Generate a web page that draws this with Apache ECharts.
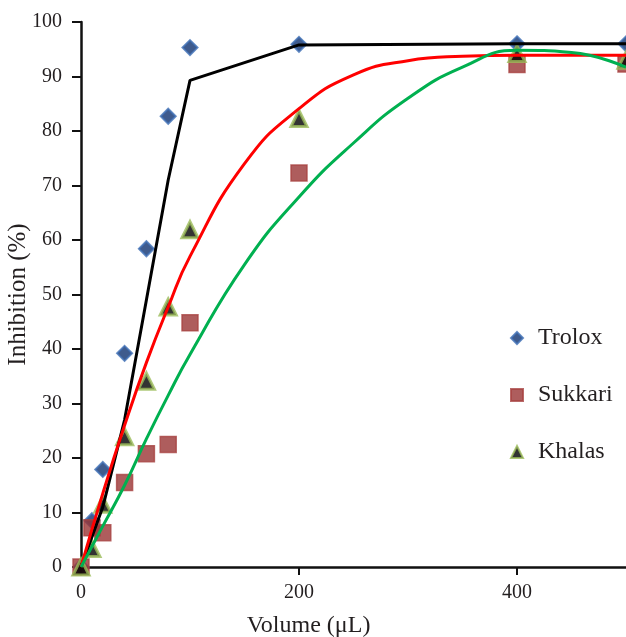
<!DOCTYPE html>
<html>
<head>
<meta charset="utf-8">
<script src="https://cdn.jsdelivr.net/npm/echarts@6/dist/echarts.min.js"></script>
<style>
  html, body { margin: 0; padding: 0; background: #fff; }
  #chart { width: 626px; height: 637px; }
</style>
</head>
<body>
<div id="chart"></div>
<script>
// measured points
const volumes = [0, 10, 20, 40, 60, 80, 100, 200, 400, 500];
const trolox  = [0, 8.5, 17.9, 39.2, 58.4, 82.7, 95.3, 95.9, 96.0, 96.0];
const sukkari = [0, 7.2, 6.3, 15.5, 20.8, 22.5, 44.8, 72.3, 92.2, 92.3];
const khalas  = [0, 3.4, 11.5, 23.9, 34.1, 47.7, 61.9, 82.3, 94.2, 93.0];

// trend lines
const troloxFitX = [0, 20, 40, 60, 80, 100, 200, 400, 500];
const troloxFit  = [0, 11, 27, 49, 71, 89.3, 95.8, 96, 96];
const fitX = [0, 20, 40, 60, 80, 100, 150, 200, 250, 300, 350, 400, 450, 500];
const sukkariFit = [0, 13.5, 26, 37.5, 47.7, 57, 74, 84.1, 90.3, 92.9, 93.7, 93.9, 93.9, 93.9];
const khalasFit  = [0, 7.5, 15, 23.5, 31.5, 39, 55.5, 67.9, 77.8, 86.0, 91.7, 94.8, 94.4, 91.7];

const xTicks = [0, 200, 400];

const zip = (xs, ys) => xs.map((x, i) => [x, ys[i]]);
const serif = '"Liberation Serif", "DejaVu Serif", serif';

const chart = echarts.init(document.getElementById('chart'));

chart.setOption({
    animation: false,
    backgroundColor: '#fff',
    grid: { left: 81, right: 0, top: 22, bottom: 70, containLabel: false, outerBoundsMode: 'none' },
    legend: {
        data: ['Trolox', 'Sukkari', 'Khalas'],
        orient: 'vertical',
        left: 510,
        top: 326,
        padding: 0,
        itemWidth: 12,
        itemHeight: 12,
        itemGap: 33,
        textStyle: { fontFamily: serif, fontSize: 24, color: '#231f20', padding: [0, 0, 0, 10] }
    },
    xAxis: {
        type: 'value',
        min: 0,
        max: 500,
        name: 'Volume (μL)',
        nameLocation: 'middle',
        nameGap: 47,
        nameMoveOverlap: false,
        nameTextStyle: { fontFamily: serif, fontSize: 24, color: '#231f20', padding: [0, 90, 0, 0] },
        axisLine: { lineStyle: { color: '#111', width: 2.5 } },
        axisTick: { show: true, length: 8, customValues: xTicks, lineStyle: { color: '#111', width: 2 } },
        axisLabel: { customValues: xTicks, margin: 16, fontFamily: serif, fontSize: 20, color: '#231f20' },
        splitLine: { show: false }
    },
    yAxis: {
        type: 'value',
        min: 0,
        max: 100,
        interval: 10,
        name: 'Inhibition (%)',
        nameLocation: 'middle',
        nameGap: 50,
        nameMoveOverlap: false,
        nameTextStyle: { fontFamily: serif, fontSize: 25, color: '#231f20' },
        axisLine: { show: true, lineStyle: { color: '#111', width: 2.5 } },
        axisTick: { show: true, length: 9, lineStyle: { color: '#111', width: 2 } },
        axisLabel: { margin: 19, fontFamily: serif, fontSize: 20, color: '#231f20' },
        splitLine: { show: false }
    },
    series: [
        {
            name: 'Trolox',
            type: 'scatter',
            symbol: 'diamond',
            symbolSize: 15,
            z: 2,
            itemStyle: { color: '#0f3270', borderColor: '#3f6fb5', borderWidth: 2 },
            data: zip(volumes, trolox)
        },
        {
            name: 'Sukkari',
            type: 'scatter',
            symbol: 'rect',
            symbolSize: 16,
            z: 2,
            itemStyle: { color: '#9a3535', borderColor: '#a84442', borderWidth: 1.5 },
            data: zip(volumes, sukkari)
        },
        {
            name: 'Khalas',
            type: 'scatter',
            symbol: 'triangle',
            symbolSize: 16,
            z: 2,
            itemStyle: { color: '#000', borderColor: '#9bbb59', borderWidth: 3 },
            data: zip(volumes, khalas)
        },
        {
            name: 'Trolox fit',
            type: 'line',
            showSymbol: false,
            z: 3,
            lineStyle: { color: '#000', width: 3 },
            data: zip(troloxFitX, troloxFit)
        },
        {
            name: 'Sukkari fit',
            type: 'line',
            showSymbol: false,
            smooth: 0.5,
            z: 3,
            lineStyle: { color: '#ff0000', width: 3 },
            data: zip(fitX, sukkariFit)
        },
        {
            name: 'Khalas fit',
            type: 'line',
            showSymbol: false,
            smooth: 0.5,
            z: 3,
            lineStyle: { color: '#00b050', width: 3 },
            data: zip(fitX, khalasFit)
        }
    ]
});
</script>
</body>
</html>
